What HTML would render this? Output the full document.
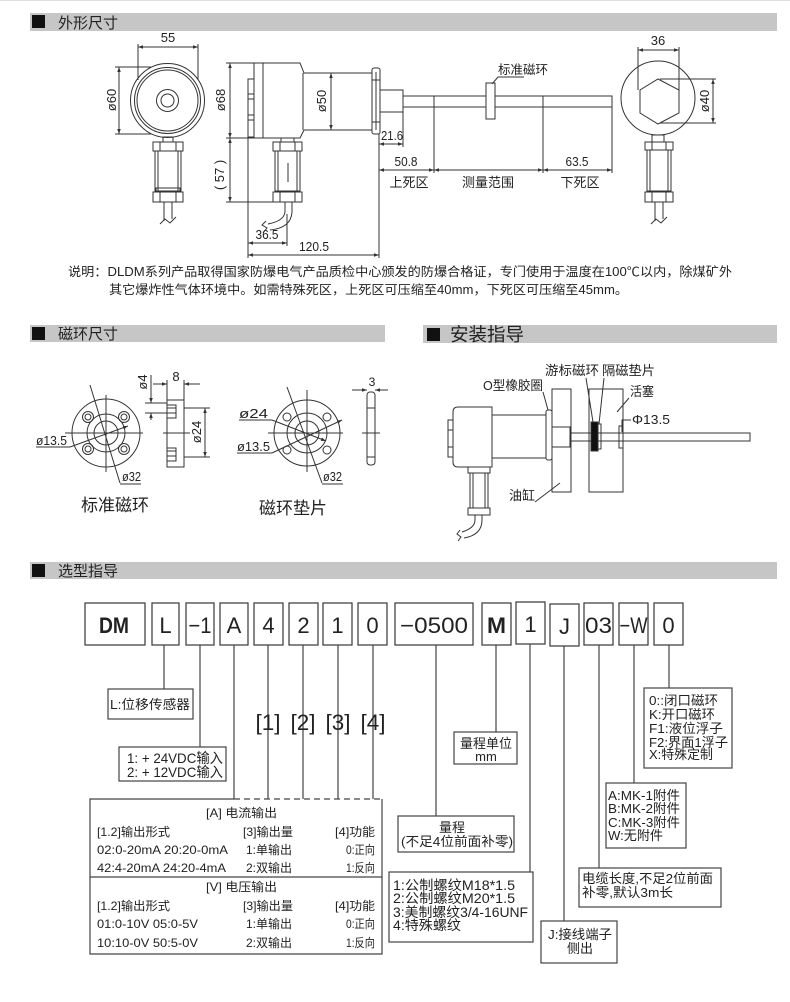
<!DOCTYPE html>
<html><head><meta charset="utf-8">
<style>
html,body{margin:0;padding:0;background:#fff}
svg{display:block}
text{font-family:"Liberation Sans","Noto Sans CJK SC",sans-serif;fill:#222}
</style></head><body>
<svg width="790" height="1002" viewBox="0 0 790 1002" xmlns="http://www.w3.org/2000/svg">
<defs>
<marker id="a" viewBox="0 0 10 10" refX="10" refY="5" markerWidth="5" markerHeight="5" orient="auto-start-reverse"><path d="M0,1.5L10,5L0,8.5z" fill="#333"/></marker>
</defs>
<rect width="790" height="1002" fill="#fff"/>
<line x1="0" y1="0.5" x2="790" y2="0.5" stroke="#ddd"/>

<!-- headers -->
<rect x="30" y="13" width="747" height="18" fill="#c6c6c6"/>
<rect x="32" y="15" width="13" height="13" fill="#111"/>
<text x="58" y="28" font-size="15">外形尺寸</text>

<rect x="30" y="325" width="355" height="17" fill="#c6c6c6"/>
<rect x="32" y="327" width="13" height="13" fill="#111"/>
<text x="58" y="339" font-size="15">磁环尺寸</text>

<rect x="423" y="325" width="354" height="18" fill="#c6c6c6"/>
<rect x="427" y="328" width="13" height="13" fill="#111"/>
<text x="450" y="341" font-size="18.5">安装指导</text>

<rect x="30" y="562" width="747" height="17" fill="#c6c6c6"/>
<rect x="32" y="564" width="13" height="13" fill="#111"/>
<text x="58" y="576" font-size="15">选型指导</text>

<!-- ===== Section 1 drawing ===== -->
<g stroke="#333" stroke-width="1" fill="none">
  <!-- front view -->
  <line x1="138" y1="47" x2="198" y2="47" marker-start="url(#a)" marker-end="url(#a)"/>
  <line x1="138" y1="44" x2="138" y2="80"/>
  <line x1="198" y1="44" x2="198" y2="80"/>
  <circle cx="167.5" cy="100.5" r="37"/>
  <circle cx="167.5" cy="100.5" r="33"/>
  <circle cx="167.5" cy="100.5" r="30.5"/>
  <circle cx="167.5" cy="100.5" r="11"/>
  <circle cx="167.5" cy="100.5" r="6.5"/>
  <line x1="119" y1="67" x2="119" y2="134" marker-start="url(#a)" marker-end="url(#a)"/>
  <line x1="115" y1="67" x2="151" y2="67"/>
  <line x1="115" y1="134" x2="151" y2="134"/>
  <rect x="163" y="137" width="10" height="5"/>
  <rect x="153" y="142" width="30" height="9"/>
  <line x1="160" y1="142" x2="160" y2="151"/><line x1="176" y1="142" x2="176" y2="151"/>
  <rect x="155" y="151" width="26" height="40"/>
  <line x1="158" y1="151" x2="158" y2="191"/><line x1="178" y1="151" x2="178" y2="191"/>
  <rect x="156" y="188" width="24" height="4"/>
  <rect x="153" y="192" width="30" height="10"/>
  <line x1="160" y1="192" x2="160" y2="202"/><line x1="176" y1="192" x2="176" y2="202"/>
  <line x1="164" y1="202" x2="164" y2="221"/><line x1="172" y1="202" x2="172" y2="219"/>
  <path d="M160,224 L165,219 L170,223 L176,217"/>

  <!-- side view -->
  <rect x="248" y="79" width="6" height="58"/>
  <line x1="248" y1="94" x2="254" y2="94"/><line x1="248" y1="99" x2="254" y2="99"/>
  <line x1="248" y1="115" x2="254" y2="115"/><line x1="248" y1="120" x2="254" y2="120"/>
  <path d="M254,63 H300 L304,73 H372 M304,130 H372 M254,138 H300 L304,130 M254,63 V138 M263,63 V138 M303,73 V130"/>
  <line x1="230" y1="63" x2="230" y2="138" marker-start="url(#a)" marker-end="url(#a)"/>
  <line x1="226" y1="63" x2="254" y2="63"/>
  <line x1="226" y1="138" x2="254" y2="138"/>
  <line x1="331" y1="73" x2="331" y2="130" marker-start="url(#a)" marker-end="url(#a)"/>
  <rect x="372" y="68" width="8" height="66" rx="2" fill="#fff"/>
  <line x1="372" y1="80" x2="380" y2="80"/><line x1="372" y1="122" x2="380" y2="122"/>
  <line x1="376" y1="72" x2="376" y2="130"/>
  <rect x="380" y="90" width="23" height="22"/>
  <path d="M403,96 H612 V107 H403"/>
  <rect x="486" y="83" width="9" height="36" fill="#fff"/>
  <path d="M492,84 L498,77 H524"/>
  <line x1="434" y1="96" x2="434" y2="173"/>
  <line x1="543" y1="96" x2="543" y2="173"/>
  <line x1="612" y1="107" x2="612" y2="173"/>
  <line x1="403" y1="112" x2="403" y2="147"/>
  <line x1="379" y1="134" x2="379" y2="258"/>
  <line x1="379" y1="144" x2="403" y2="144" marker-start="url(#a)" marker-end="url(#a)"/>
  <line x1="379" y1="170" x2="434" y2="170" marker-start="url(#a)" marker-end="url(#a)"/>
  <line x1="434" y1="170" x2="543" y2="170" marker-start="url(#a)" marker-end="url(#a)"/>
  <line x1="543" y1="170" x2="612" y2="170" marker-start="url(#a)" marker-end="url(#a)"/>
  <line x1="230" y1="138" x2="230" y2="202" marker-start="url(#a)" marker-end="url(#a)"/>
  <line x1="226" y1="202" x2="273" y2="202"/>
  <rect x="281" y="138" width="13" height="4"/>
  <rect x="273" y="142" width="29" height="9"/>
  <line x1="280" y1="142" x2="280" y2="151"/><line x1="295" y1="142" x2="295" y2="151"/>
  <rect x="275" y="151" width="25" height="40"/>
  <line x1="278" y1="151" x2="278" y2="191"/><line x1="297" y1="151" x2="297" y2="191"/>
  <line x1="288" y1="163" x2="288" y2="182"/>
  <rect x="273" y="192" width="29" height="10"/>
  <line x1="280" y1="192" x2="280" y2="202"/><line x1="295" y1="192" x2="295" y2="202"/>
  <path d="M285,202 V212 Q284,221 268,224"/>
  <path d="M292,202 V212 Q291,228 270,230"/>
  <path d="M266,221 L262,225 L267,228 L263,233"/>
  <line x1="248" y1="138" x2="248" y2="258"/>
  <line x1="287" y1="214" x2="287" y2="246"/>
  <line x1="248" y1="243" x2="287" y2="243" marker-start="url(#a)" marker-end="url(#a)"/>
  <line x1="248" y1="255" x2="379" y2="255" marker-start="url(#a)" marker-end="url(#a)"/>

  <!-- right view -->
  <line x1="638" y1="50" x2="679" y2="50" marker-start="url(#a)" marker-end="url(#a)"/>
  <line x1="638" y1="47" x2="638" y2="90"/>
  <line x1="679" y1="47" x2="679" y2="90"/>
  <circle cx="658" cy="98" r="37"/>
  <polygon points="658,79 679,90 679,113 658,124 640,113 640,90"/>
  <line x1="660" y1="79" x2="716" y2="79"/>
  <line x1="660" y1="123" x2="716" y2="123"/>
  <line x1="713" y1="79" x2="713" y2="123" marker-start="url(#a)" marker-end="url(#a)"/>
  <rect x="652" y="135" width="12" height="7"/>
  <rect x="645" y="142" width="28" height="8"/>
  <line x1="652" y1="142" x2="652" y2="150"/><line x1="666" y1="142" x2="666" y2="150"/>
  <rect x="647" y="150" width="24" height="41"/>
  <line x1="650" y1="150" x2="650" y2="191"/><line x1="668" y1="150" x2="668" y2="191"/>
  <rect x="645" y="192" width="28" height="10"/>
  <line x1="652" y1="192" x2="652" y2="202"/><line x1="666" y1="192" x2="666" y2="202"/>
  <line x1="655" y1="202" x2="655" y2="221"/><line x1="663" y1="202" x2="663" y2="219"/>
  <path d="M651,224 L656,219 L661,223 L667,217"/>
</g>
<g font-size="13">
  <text x="168" y="42" text-anchor="middle">55</text>
  <text transform="translate(112,100) rotate(-90)" text-anchor="middle" y="4">ø60</text>
  <text transform="translate(221,100) rotate(-90)" text-anchor="middle" y="4">ø68</text>
  <text transform="translate(322,101) rotate(-90)" text-anchor="middle" y="4">ø50</text>
  <text transform="translate(220,175) rotate(-90)" text-anchor="middle" y="4">( 57 )</text>
  <text x="392" y="140" text-anchor="middle" textLength="22" lengthAdjust="spacingAndGlyphs">21.6</text>
  <text x="406" y="166" text-anchor="middle" textLength="23" lengthAdjust="spacingAndGlyphs">50.8</text>
  <text x="577" y="166" text-anchor="middle" textLength="23" lengthAdjust="spacingAndGlyphs">63.5</text>
  <text x="267" y="239" text-anchor="middle" textLength="23" lengthAdjust="spacingAndGlyphs">36.5</text>
  <text x="314" y="251" text-anchor="middle" textLength="30" lengthAdjust="spacingAndGlyphs">120.5</text>
  <text x="658" y="45" text-anchor="middle">36</text>
  <text transform="translate(705,101) rotate(-90)" text-anchor="middle" y="4">ø40</text>
  <text x="498" y="74" font-size="12.5">标准磁环</text>
  <text x="409" y="187" text-anchor="middle">上死区</text>
  <text x="488" y="187" text-anchor="middle">测量范围</text>
  <text x="580" y="187" text-anchor="middle">下死区</text>
</g>

<!-- description -->
<text x="68" y="276" font-size="12.5" textLength="664" lengthAdjust="spacingAndGlyphs">说明：DLDM系列产品取得国家防爆电气产品质检中心颁发的防爆合格证，专门使用于温度在100℃以内，除煤矿外</text>
<text x="109" y="294" font-size="12.5" textLength="519" lengthAdjust="spacingAndGlyphs">其它爆炸性气体环境中。如需特殊死区，上死区可压缩至40mm，下死区可压缩至45mm。</text>

<!-- ===== magnet ring section ===== -->
<g stroke="#333" stroke-width="1" fill="none">
  <circle cx="106" cy="433" r="34"/>
  <circle cx="106" cy="433" r="19"/>
  <circle cx="106" cy="433" r="12"/>
  <circle cx="88" cy="417" r="5.5"/><circle cx="88" cy="417" r="3"/>
  <circle cx="124" cy="417" r="5.5"/><circle cx="124" cy="417" r="3"/>
  <circle cx="88" cy="449" r="5.5"/><circle cx="88" cy="449" r="3"/>
  <circle cx="124" cy="449" r="5.5"/><circle cx="124" cy="449" r="3"/>
  <line x1="65" y1="433" x2="143" y2="433"/>
  <line x1="106" y1="395" x2="106" y2="472"/>
  <line x1="90" y1="385" x2="120" y2="483"/>
  <line x1="120" y1="484" x2="141" y2="484"/>
  <line x1="36" y1="447" x2="70" y2="447"/>
  <line x1="70" y1="447" x2="128" y2="426" marker-end="url(#a)"/>

  <rect x="167" y="400" width="17" height="67"/>
  <path d="M167,405 H176 V418 H167 M167,408 H176 M167,413 H176"/>
  <path d="M167,448 H176 V461 H167 M167,451 H176 M167,456 H176"/>
  <line x1="163" y1="433" x2="190" y2="433"/>
  <line x1="151" y1="375" x2="151" y2="403" marker-end="url(#a)"/>
  <line x1="151" y1="420" x2="151" y2="413" marker-end="url(#a)"/>
  <line x1="145" y1="403" x2="167" y2="403"/>
  <line x1="145" y1="413" x2="167" y2="413"/>
  <line x1="153" y1="384" x2="167" y2="384" marker-end="url(#a)"/>
  <line x1="200" y1="384" x2="184" y2="384" marker-end="url(#a)"/>
  <line x1="167" y1="380" x2="167" y2="400"/>
  <line x1="184" y1="380" x2="184" y2="400"/>
  <line x1="205" y1="408" x2="205" y2="457" marker-start="url(#a)" marker-end="url(#a)"/>
  <line x1="184" y1="408" x2="210" y2="408"/>
  <line x1="184" y1="457" x2="210" y2="457"/>

  <circle cx="307" cy="433" r="33"/>
  <circle cx="307" cy="433" r="20"/>
  <circle cx="307" cy="433" r="12"/>
  <circle cx="287" cy="417" r="4"/><circle cx="327" cy="417" r="4"/>
  <circle cx="287" cy="450" r="4"/><circle cx="327" cy="450" r="4"/>
  <line x1="268" y1="433" x2="343" y2="433"/>
  <line x1="307" y1="390" x2="307" y2="472"/>
  <line x1="287" y1="387" x2="322" y2="483"/>
  <line x1="322" y1="484" x2="343" y2="484"/>
  <line x1="239" y1="420" x2="272" y2="420"/>
  <line x1="272" y1="420" x2="326" y2="441" marker-end="url(#a)"/>
  <line x1="237" y1="453" x2="272" y2="453"/>
  <line x1="272" y1="453" x2="342" y2="420" marker-end="url(#a)"/>

  <rect x="367" y="392" width="8" height="73" rx="3"/>
  <line x1="362" y1="433" x2="380" y2="433"/>
  <line x1="367" y1="408" x2="375" y2="408"/>
  <line x1="367" y1="457" x2="375" y2="457"/>
  <line x1="352" y1="390" x2="367" y2="390" marker-end="url(#a)"/>
  <line x1="388" y1="390" x2="375" y2="390" marker-end="url(#a)"/>
</g>
<g font-size="13">
  <text x="36" y="445" textLength="31" lengthAdjust="spacingAndGlyphs">ø13.5</text>
  <text x="122" y="481" textLength="19" lengthAdjust="spacingAndGlyphs">ø32</text>
  <text transform="translate(143,382) rotate(-90)" text-anchor="middle" y="4">ø4</text>
  <text x="176" y="381" text-anchor="middle">8</text>
  <text transform="translate(197,432) rotate(-90)" text-anchor="middle" y="4">ø24</text>
  <text x="239" y="418" textLength="29" lengthAdjust="spacingAndGlyphs">ø24</text>
  <text x="237" y="451" textLength="33" lengthAdjust="spacingAndGlyphs">ø13.5</text>
  <text x="323" y="481" textLength="19" lengthAdjust="spacingAndGlyphs">ø32</text>
  <text x="372" y="386" text-anchor="middle" font-size="12">3</text>
  <text x="115" y="511" text-anchor="middle" font-size="17">标准磁环</text>
  <text x="293" y="514" text-anchor="middle" font-size="17">磁环垫片</text>
</g>

<!-- ===== install section ===== -->
<g stroke="#333" stroke-width="1" fill="none">
  <rect x="552" y="389" width="19" height="103" fill="#fff"/>
  <rect x="589" y="389" width="34" height="103" fill="#fff"/>
  <path d="M458,407 H492 V467 H458 Q453,467 453,462 V412 Q453,407 458,407 Z"/>
  <rect x="448" y="420" width="5" height="37"/>
  <line x1="448" y1="430" x2="453" y2="430"/><line x1="448" y1="447" x2="453" y2="447"/>
  <path d="M492,415 H546 M492,458 H546"/>
  <rect x="546" y="410" width="6" height="50" rx="2" fill="#fff"/>
  <rect x="552" y="427" width="18" height="20"/>
  <path d="M570,433 H750 V441 H570"/>
  <rect x="591" y="422" width="7" height="29" fill="#111"/>
  <rect x="598" y="424" width="3" height="25"/>
  <rect x="619" y="426" width="4" height="22"/>
  <rect x="468" y="467" width="22" height="6"/>
  <rect x="470" y="473" width="18" height="35"/>
  <line x1="473" y1="473" x2="473" y2="508"/><line x1="485" y1="473" x2="485" y2="508"/>
  <rect x="468" y="508" width="22" height="7"/>
  <path d="M475,515 V520 Q475,528 462,532"/>
  <path d="M482,515 V520 Q482,535 464,538"/>
  <path d="M460,530 L457,534 L461,537 L458,541"/>
  <path d="M543,392 L548,410"/>
  <path d="M586,378 L593,422"/>
  <path d="M604,378 L599,424"/>
  <path d="M629,398 L617,412"/>
  <path d="M631,420 H622 V432"/>
  <path d="M535,502 L560,483"/>
</g>
<g font-size="13">
  <text x="483" y="390" textLength="60" lengthAdjust="spacingAndGlyphs">O型橡胶圈</text>
  <text x="545" y="375" textLength="54" lengthAdjust="spacingAndGlyphs">游标磁环</text>
  <text x="602" y="375" textLength="53" lengthAdjust="spacingAndGlyphs">隔磁垫片</text>
  <text x="630" y="396" textLength="24" lengthAdjust="spacingAndGlyphs">活塞</text>
  <text x="632" y="424" textLength="38" lengthAdjust="spacingAndGlyphs">Φ13.5</text>
  <text x="509" y="500" textLength="26" lengthAdjust="spacingAndGlyphs">油缸</text>
</g>

<!-- ===== selection section ===== -->
<g stroke="#444" stroke-width="1.3" fill="#fff">
  <rect x="85" y="603" width="60" height="42"/>
  <rect x="152" y="603" width="27" height="42"/>
  <rect x="186" y="603" width="28" height="42"/>
  <rect x="220" y="603" width="28" height="42"/>
  <rect x="254" y="603" width="29" height="42"/>
  <rect x="289" y="603" width="29" height="42"/>
  <rect x="323" y="603" width="29" height="42"/>
  <rect x="358" y="603" width="29" height="42"/>
  <rect x="395" y="603" width="78" height="42"/>
  <rect x="482" y="603" width="29" height="42"/>
  <rect x="516" y="602" width="29" height="42"/>
  <rect x="550" y="604" width="29" height="42"/>
  <rect x="584" y="603" width="29" height="42"/>
  <rect x="619" y="603" width="29" height="42"/>
  <rect x="654" y="603" width="29" height="42"/>
</g>
<g font-size="22" text-anchor="middle">
  <text x="114" y="633" font-weight="bold" textLength="30" lengthAdjust="spacingAndGlyphs">DM</text>
  <text x="165.5" y="633">L</text>
  <text x="200" y="633" textLength="23" lengthAdjust="spacingAndGlyphs">−1</text>
  <text x="234" y="633">A</text>
  <text x="268.5" y="633">4</text>
  <text x="303.5" y="633">2</text>
  <text x="337.5" y="633">1</text>
  <text x="372.5" y="633">0</text>
  <text x="434" y="633" textLength="68" lengthAdjust="spacingAndGlyphs">−0500</text>
  <text x="496.5" y="633" font-weight="bold" textLength="19" lengthAdjust="spacingAndGlyphs">M</text>
  <text x="530.5" y="632">1</text>
  <text x="564.5" y="634">J</text>
  <text x="598.5" y="633" textLength="27" lengthAdjust="spacingAndGlyphs">03</text>
  <text x="633.5" y="633" textLength="28" lengthAdjust="spacingAndGlyphs">−W</text>
  <text x="668.5" y="633">0</text>
</g>

<g stroke="#444" stroke-width="1.2" fill="none">
  <line x1="164" y1="645" x2="164" y2="689"/>
  <line x1="200" y1="645" x2="200" y2="747"/>
  <line x1="234" y1="645" x2="234" y2="799"/>
  <line x1="268" y1="645" x2="268" y2="799"/>
  <line x1="303" y1="645" x2="303" y2="799"/>
  <line x1="338" y1="645" x2="338" y2="799"/>
  <line x1="373" y1="645" x2="373" y2="799"/>
  <line x1="436" y1="645" x2="436" y2="816"/>
  <line x1="496" y1="645" x2="496" y2="732"/>
  <line x1="530" y1="644" x2="530" y2="872"/>
  <line x1="564" y1="646" x2="564" y2="921"/>
  <line x1="599" y1="645" x2="599" y2="868"/>
  <line x1="634" y1="645" x2="634" y2="783"/>
  <line x1="669" y1="645" x2="669" y2="688"/>
  <rect x="108" y="689" width="85" height="30"/>
  <rect x="119" y="747" width="107" height="34"/>
  <path d="M234,799 H90 V954 H382 V799"/>
  <line x1="234" y1="799" x2="382" y2="799" stroke-dasharray="6,4"/>
  <line x1="90" y1="877" x2="382" y2="877"/>
  <rect x="398" y="816" width="116" height="36"/>
  <rect x="389" y="872" width="144" height="70"/>
  <rect x="541" y="921" width="76" height="42"/>
  <rect x="579" y="868" width="142" height="39"/>
  <rect x="606" y="783" width="80" height="65"/>
  <rect x="644" y="688" width="88" height="80"/>
  <rect x="454" y="732" width="63" height="32"/>
</g>
<g font-size="22" text-anchor="middle" fill="#222">
  <text x="268" y="730" textLength="25" lengthAdjust="spacingAndGlyphs">[1]</text>
  <text x="303" y="730" textLength="25" lengthAdjust="spacingAndGlyphs">[2]</text>
  <text x="338" y="730" textLength="25" lengthAdjust="spacingAndGlyphs">[3]</text>
  <text x="373" y="730" textLength="25" lengthAdjust="spacingAndGlyphs">[4]</text>
</g>
<g font-size="13">
  <text x="110" y="709" textLength="80" lengthAdjust="spacingAndGlyphs">L:位移传感器</text>
  <text x="127" y="763" font-size="14" textLength="96" lengthAdjust="spacingAndGlyphs">1: + 24VDC输入</text>
  <text x="127" y="777" font-size="14" textLength="96" lengthAdjust="spacingAndGlyphs">2: + 12VDC输入</text>
</g>
<g font-size="12" fill="#333">
  <text x="206" y="817" textLength="71" lengthAdjust="spacingAndGlyphs">[A]  电流输出</text>
  <text x="97" y="836" textLength="73" lengthAdjust="spacingAndGlyphs">[1.2]输出形式</text>
  <text x="243" y="836" textLength="50" lengthAdjust="spacingAndGlyphs">[3]输出量</text>
  <text x="335" y="836" textLength="40" lengthAdjust="spacingAndGlyphs">[4]功能</text>
  <text x="97" y="854" textLength="131" lengthAdjust="spacingAndGlyphs">02:0-20mA 20:20-0mA</text>
  <text x="246" y="854" textLength="46" lengthAdjust="spacingAndGlyphs">1:单输出</text>
  <text x="346" y="854" textLength="29" lengthAdjust="spacingAndGlyphs">0:正向</text>
  <text x="97" y="872" textLength="129" lengthAdjust="spacingAndGlyphs">42:4-20mA 24:20-4mA</text>
  <text x="246" y="872" textLength="46" lengthAdjust="spacingAndGlyphs">2:双输出</text>
  <text x="346" y="872" textLength="29" lengthAdjust="spacingAndGlyphs">1:反向</text>
  <text x="206" y="891" textLength="71" lengthAdjust="spacingAndGlyphs">[V]  电压输出</text>
  <text x="97" y="910" textLength="73" lengthAdjust="spacingAndGlyphs">[1.2]输出形式</text>
  <text x="243" y="910" textLength="50" lengthAdjust="spacingAndGlyphs">[3]输出量</text>
  <text x="335" y="910" textLength="40" lengthAdjust="spacingAndGlyphs">[4]功能</text>
  <text x="97" y="928" textLength="101" lengthAdjust="spacingAndGlyphs">01:0-10V 05:0-5V</text>
  <text x="246" y="928" textLength="46" lengthAdjust="spacingAndGlyphs">1:单输出</text>
  <text x="346" y="928" textLength="29" lengthAdjust="spacingAndGlyphs">0:正向</text>
  <text x="97" y="947" textLength="101" lengthAdjust="spacingAndGlyphs">10:10-0V 50:5-0V</text>
  <text x="246" y="947" textLength="46" lengthAdjust="spacingAndGlyphs">2:双输出</text>
  <text x="346" y="947" textLength="29" lengthAdjust="spacingAndGlyphs">1:反向</text>
</g>
<g font-size="13">
  <text x="452" y="832" text-anchor="middle">量程</text>
  <text x="457" y="846" text-anchor="middle" textLength="112" lengthAdjust="spacingAndGlyphs">(不足4位前面补零)</text>
  <text x="486" y="748" text-anchor="middle">量程单位</text>
  <text x="486" y="761" text-anchor="middle">mm</text>
  <text x="393" y="890" font-size="13.5" textLength="122" lengthAdjust="spacingAndGlyphs">1:公制螺纹M18*1.5</text>
  <text x="393" y="903" font-size="13.5" textLength="122" lengthAdjust="spacingAndGlyphs">2:公制螺纹M20*1.5</text>
  <text x="393" y="917" font-size="13.5" textLength="135" lengthAdjust="spacingAndGlyphs">3:美制螺纹3/4-16UNF</text>
  <text x="393" y="930" font-size="13.5" textLength="68" lengthAdjust="spacingAndGlyphs">4:特殊螺纹</text>
  <text x="580" y="939" text-anchor="middle" textLength="64" lengthAdjust="spacingAndGlyphs">J:接线端子</text>
  <text x="580" y="953" text-anchor="middle">侧出</text>
  <text x="582" y="883" textLength="131" lengthAdjust="spacingAndGlyphs">电缆长度,不足2位前面</text>
  <text x="582" y="897" textLength="91" lengthAdjust="spacingAndGlyphs">补零,默认3m长</text>
  <text x="608" y="800" textLength="72" lengthAdjust="spacingAndGlyphs">A:MK-1附件</text>
  <text x="608" y="813" textLength="72" lengthAdjust="spacingAndGlyphs">B:MK-2附件</text>
  <text x="608" y="827" textLength="72" lengthAdjust="spacingAndGlyphs">C:MK-3附件</text>
  <text x="608" y="840" textLength="55" lengthAdjust="spacingAndGlyphs">W:无附件</text>
  <text x="649" y="705" textLength="69" lengthAdjust="spacingAndGlyphs">0::闭口磁环</text>
  <text x="649" y="719" textLength="66" lengthAdjust="spacingAndGlyphs">K:开口磁环</text>
  <text x="649" y="733" textLength="74" lengthAdjust="spacingAndGlyphs">F1:液位浮子</text>
  <text x="649" y="747" textLength="79" lengthAdjust="spacingAndGlyphs">F2:界面1浮子</text>
  <text x="649" y="759" textLength="64" lengthAdjust="spacingAndGlyphs">X:特殊定制</text>
</g>
</svg>
</body></html>
